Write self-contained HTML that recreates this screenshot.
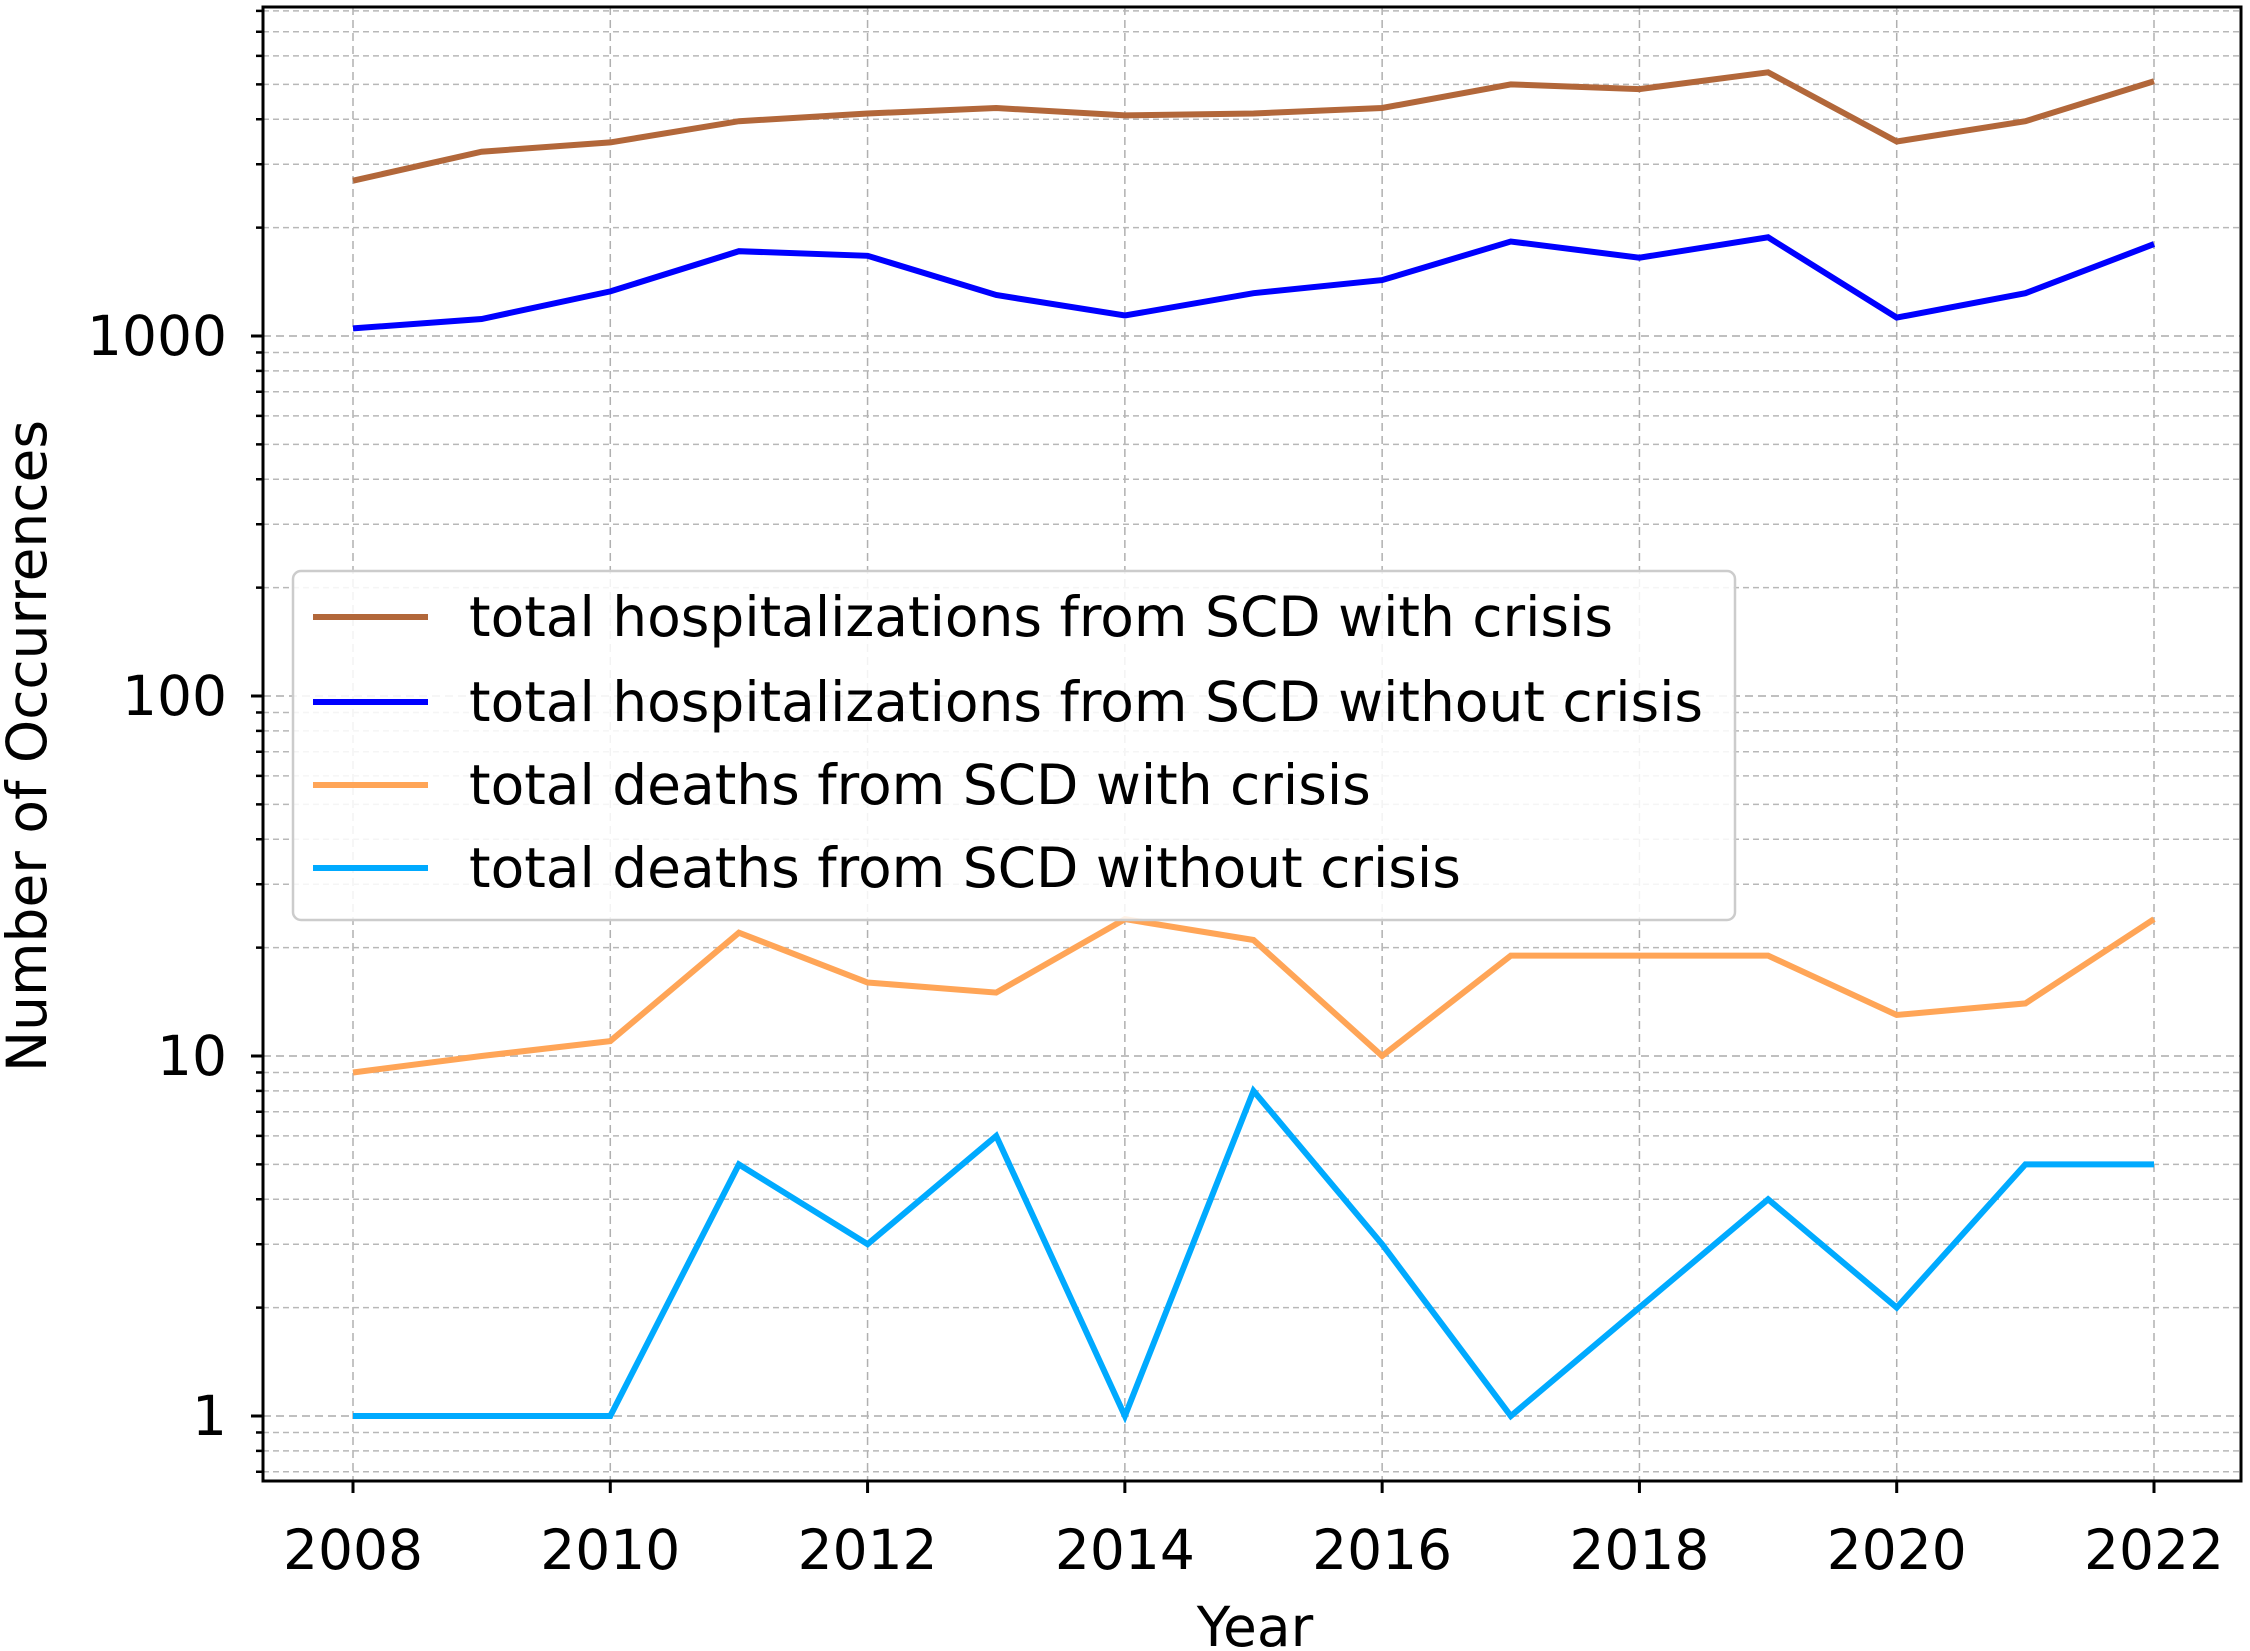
<!DOCTYPE html>
<html><head><meta charset="utf-8">
<style>
html,body{margin:0;padding:0;background:#fff;}
svg{display:block;font-family:"DejaVu Sans","Liberation Sans",sans-serif;}
</style></head>
<body>
<svg id="chart" width="2250" height="1651" viewBox="0 0 2250 1651" xmlns="http://www.w3.org/2000/svg">
<rect width="2250" height="1651" fill="#fff"/>
<g id="grid"></g>
<g id="series"></g>
<g id="axes"></g>
<g id="legend"></g>
<text x="1255" y="1646" font-size="55" text-anchor="middle" fill="#000">Year</text>
<text x="0" y="0" font-size="55" text-anchor="middle" fill="#000" transform="translate(46,746) rotate(-90)">Number of Occurrences</text>
</svg>
<script>
const years = [2008,2009,2010,2011,2012,2013,2014,2015,2016,2017,2018,2019,2020,2021,2022];
const hospWithCrisis = [2700,3250,3450,3950,4150,4300,4100,4150,4300,5000,4850,5400,3470,3950,5100];
const hospWithoutCrisis = [1050,1115,1330,1720,1670,1300,1140,1315,1430,1830,1650,1880,1125,1315,1800];
const deathsWithCrisis = [9,10,11,22,16,15,24,21,10,19,19,19,13,14,24];
const deathsWithoutCrisis = [1,1,1,5,3,6,1,8,3,1,2,4,2,5,5];
const xTickLabels = [2008,2010,2012,2014,2016,2018,2020,2022];
const yTickValues = [1,10,100,1000];
const yTickLabels = ["1","10","100","1000"];
const seriesNames = ["total hospitalizations from SCD with crisis","total hospitalizations from SCD without crisis","total deaths from SCD with crisis","total deaths from SCD without crisis"];

const NS="http://www.w3.org/2000/svg";
const L=263,R=2241,T=7,B=1481;
const X0=353,X1=2154;
const Y1=1416,DEC=360;
function xs(v){return X0+(v-2008)*(X1-X0)/14;}
function ys(v){return Y1-Math.log10(v)*DEC;}
function mk(tag,attrs,parent){const e=document.createElementNS(NS,tag);for(const k in attrs)e.setAttribute(k,attrs[k]);parent.appendChild(e);return e;}
const grid=document.getElementById('grid'),axes=document.getElementById('axes'),ser=document.getElementById('series'),leg=document.getElementById('legend');

for(let y=2008;y<=2022;y+=2){
  const l=mk('line',{x1:xs(y),x2:xs(y),y1:T,y2:B,stroke:'#b0b0b0','stroke-width':1.5,'stroke-dasharray':'8,5'},grid);
  
  
}
for(let d=-1;d<=4;d++){
  for(let m=1;m<=9;m++){
    const v=m*Math.pow(10,d);const y=ys(v);
    if(y<T||y>B)continue;
    const major=(m===1);
    const g=mk('line',{x1:L,x2:R,y1:y,y2:y,stroke:'#b8b8b8','stroke-width':major?1.8:1.5,'stroke-dasharray':major?'8,5':'6,4'},grid);
    
    
    const t=mk('line',{x1:L-(major?12:7),x2:L,y1:y,y2:y,stroke:'#000','stroke-width':major?3:2.5},axes);
    
    
  }
}
yTickValues.forEach((v,i)=>{
  const t=mk('text',{x:L-36,y:ys(v)+19,'font-size':55,'text-anchor':'end',fill:'#000'},axes);
  t.textContent=yTickLabels[i];
  
  
});
xTickLabels.forEach(v=>{
  const tk=mk('line',{x1:xs(v),x2:xs(v),y1:B,y2:B+12,stroke:'#000','stroke-width':3},axes);
  
  
  const t=mk('text',{x:xs(v),y:1569,'font-size':55,'text-anchor':'middle',fill:'#000'},axes);
  t.textContent=v;
  
  
});
const frame=mk('rect',{x:L,y:T,width:R-L,height:B-T,fill:'none',stroke:'#000','stroke-width':3},axes);



const colors=['#b2673a','#0000ff','#ffa557','#00aaff'];
const data=[hospWithCrisis,hospWithoutCrisis,deathsWithCrisis,deathsWithoutCrisis];
const sNames=['line-hosp-with-crisis','line-hosp-without-crisis','line-deaths-with-crisis','line-deaths-without-crisis'];
data.forEach((arr,i)=>{
  const pts=arr.map((v,j)=>xs(years[j]).toFixed(1)+','+ys(v).toFixed(1)).join(' ');
  const p=mk('polyline',{points:pts,fill:'none',stroke:colors[i],'stroke-width':6,'stroke-linejoin':'miter'},ser);
  
  
});

const box=mk('rect',{x:293,y:571,width:1442,height:349,rx:8,fill:'#fff','fill-opacity':0.85,stroke:'#cccccc','stroke-width':2.5},leg);


const ly=[617,702,785,868];
seriesNames.forEach((n,i)=>{
  const ln=mk('line',{x1:313,x2:428,y1:ly[i],y2:ly[i],stroke:colors[i],'stroke-width':6},leg);
  
  
  const t=mk('text',{x:469,y:ly[i]+19,'font-size':55,fill:'#000'},leg);
  t.textContent=n;
  
  
});
</script>
</body></html>
